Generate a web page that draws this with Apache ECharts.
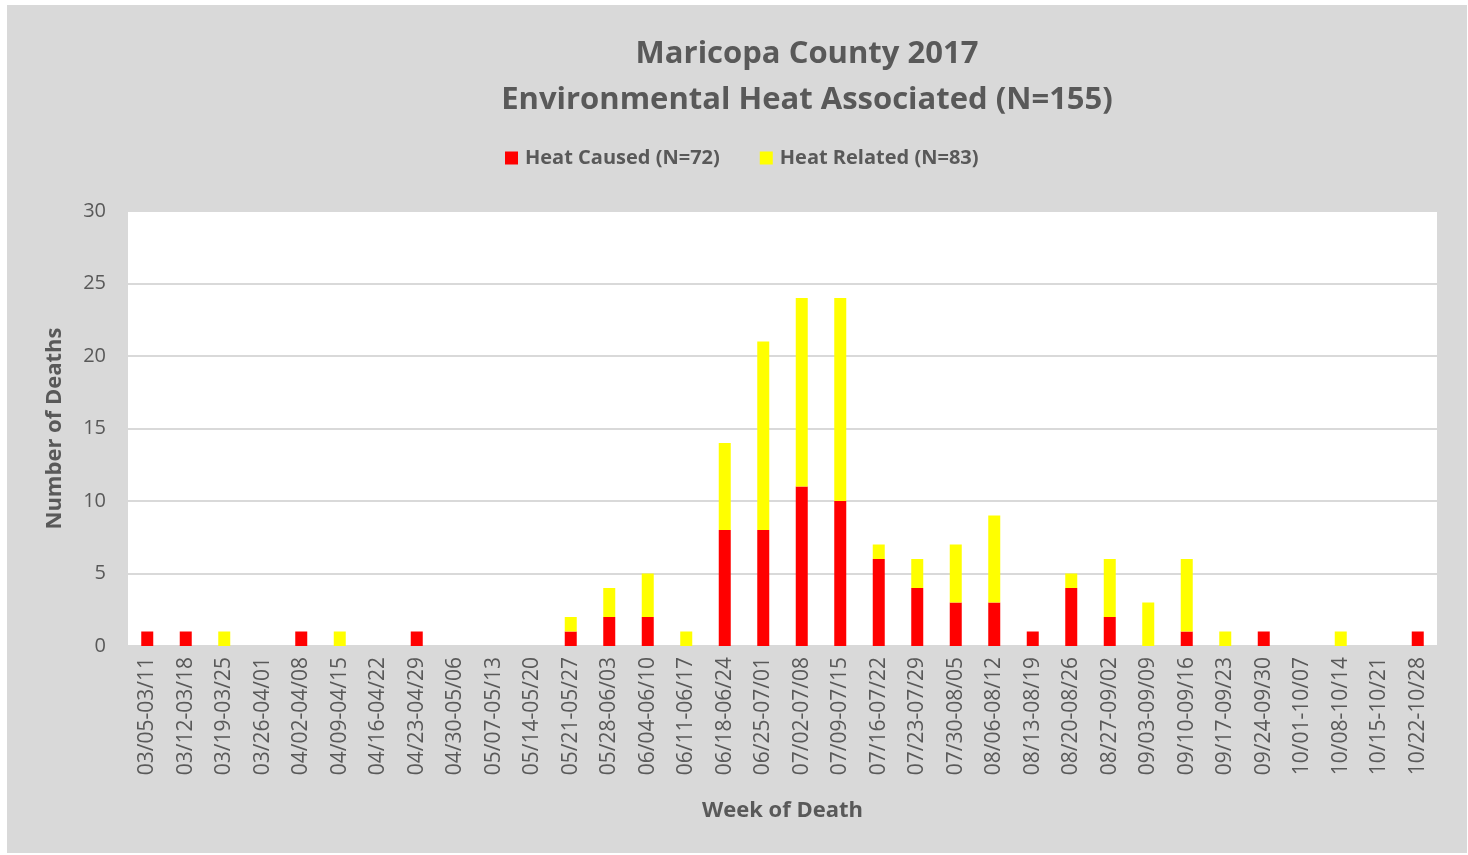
<!DOCTYPE html>
<html>
<head>
<meta charset="utf-8">
<script src="https://cdn.jsdelivr.net/npm/echarts@6/dist/echarts.min.js"></script>
<style>
  html, body { margin: 0; padding: 0; background: #fff; }
  #chart { width: 1468px; height: 855px; }
</style>
</head>
<body>
<div id="chart"></div>
<script>
// weekly heat deaths, Maricopa County 2017
const weeks = [
  '03/05-03/11', '03/12-03/18', '03/19-03/25', '03/26-04/01', '04/02-04/08',
  '04/09-04/15', '04/16-04/22', '04/23-04/29', '04/30-05/06', '05/07-05/13',
  '05/14-05/20', '05/21-05/27', '05/28-06/03', '06/04-06/10', '06/11-06/17',
  '06/18-06/24', '06/25-07/01', '07/02-07/08', '07/09-07/15', '07/16-07/22',
  '07/23-07/29', '07/30-08/05', '08/06-08/12', '08/13-08/19', '08/20-08/26',
  '08/27-09/02', '09/03-09/09', '09/10-09/16', '09/17-09/23', '09/24-09/30',
  '10/01-10/07', '10/08-10/14', '10/15-10/21', '10/22-10/28'
];
const heatCaused = [1, 1, 0, 0, 1, 0, 0, 1, 0, 0, 0, 1, 2, 2, 0, 8, 8, 11, 10, 6, 4, 3, 3, 1, 4, 2, 0, 1, 0, 1, 0, 0, 0, 1];
const heatRelated = [0, 0, 1, 0, 0, 1, 0, 0, 0, 0, 0, 1, 2, 3, 1, 6, 13, 13, 14, 1, 2, 4, 6, 0, 1, 4, 3, 5, 1, 0, 0, 1, 0, 0];

const chart = echarts.init(document.getElementById('chart'));
const font = '"Open Sans", sans-serif';
const grey = '#595959';

chart.setOption({
  backgroundColor: '#fff',
  textStyle: { fontFamily: font },
  graphic: [
    {
      type: 'rect',
      z: -10,
      shape: { x: 7, y: 5, width: 1460, height: 848 },
      style: { fill: '#d9d9d9' }
    }
  ],
  title: {
    text: 'Maricopa County 2017\nEnvironmental Heat Associated (N=155)',
    left: 802,
    top: 26,
    textAlign: 'center',
    textStyle: {
      fontFamily: font,
      fontSize: 31,
      fontWeight: 'bold',
      color: grey,
      lineHeight: 46
    }
  },
  legend: {
    top: 143,
    left: 500,
    itemWidth: 13,
    itemHeight: 13,
    itemGap: 40,
    icon: 'rect',
    textStyle: { fontFamily: font, fontSize: 20, fontWeight: 'bold', color: grey, padding: [0, 0, 0, 2] }
  },
  grid: {
    left: 128,
    top: 211,
    width: 1309,
    height: 435,
    show: true,
    backgroundColor: '#fff',
    borderWidth: 0
  },
  xAxis: {
    type: 'category',
    data: weeks,
    name: 'Week of Death',
    nameLocation: 'middle',
    nameGap: 154,
    nameTextStyle: { fontFamily: font, fontSize: 22, fontWeight: 'bold', color: grey },
    axisLine: { lineStyle: { color: '#d9d9d9', width: 2 } },
    axisTick: { show: false },
    axisLabel: {
      rotate: 90,
      interval: 0,
      margin: 11,
      fontFamily: font,
      fontSize: 21,
      color: grey
    }
  },
  yAxis: {
    type: 'value',
    min: 0,
    max: 30,
    interval: 5,
    name: 'Number of Deaths',
    nameLocation: 'middle',
    nameGap: 62,
    nameTextStyle: { fontFamily: font, fontSize: 22, fontWeight: 'bold', color: grey },
    axisLine: { show: false },
    axisTick: { show: false },
    axisLabel: { margin: 22, fontFamily: font, fontSize: 20, color: grey },
    splitLine: { lineStyle: { color: '#d9d9d9', width: 2 } }
  },
  series: [
    {
      name: 'Heat Caused (N=72)',
      type: 'bar',
      stack: 'deaths',
      barWidth: 12,
      itemStyle: { color: '#ff0000' },
      data: heatCaused
    },
    {
      name: 'Heat Related (N=83)',
      type: 'bar',
      stack: 'deaths',
      barWidth: 12,
      itemStyle: { color: '#ffff00' },
      data: heatRelated
    }
  ]
});
</script>
</body>
</html>
